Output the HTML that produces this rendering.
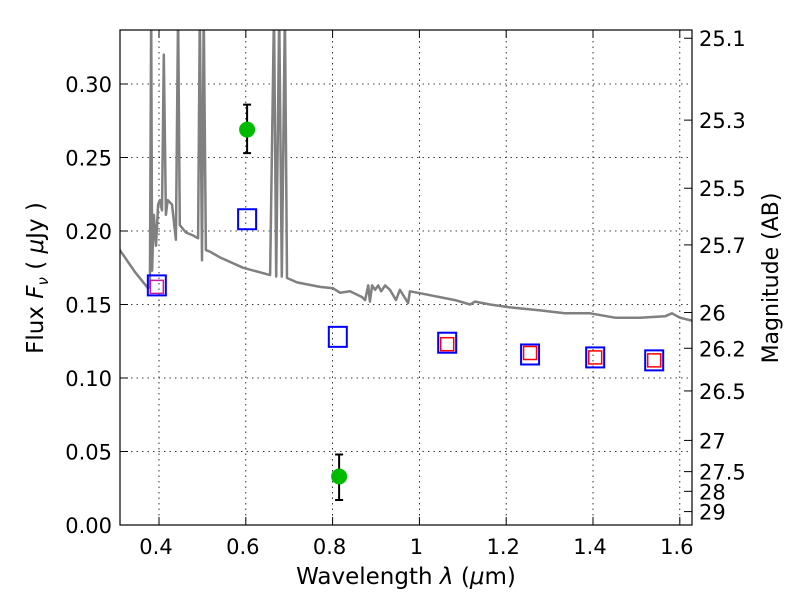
<!DOCTYPE html>
<html><head><meta charset="utf-8"><style>
body{margin:0;background:#fff}
svg text{font-family:"DejaVu Sans","Liberation Sans",sans-serif;fill:#000}
</style></head><body>
<svg id="chart" width="800" height="600" xmlns="http://www.w3.org/2000/svg">
<defs><clipPath id="clip"><rect x="120" y="30" width="572" height="495"/></clipPath></defs>
<g id="grid"></g>
<g id="spec" clip-path="url(#clip)"></g>
<g id="marks"></g>
<rect x="120" y="30" width="572" height="495" fill="none" stroke="#000" stroke-width="1.2"/>
<g id="axes"></g>
<text x="406" y="584" font-size="23" text-anchor="middle">Wavelength  <tspan font-style="italic">λ</tspan> (<tspan font-style="italic">μ</tspan>m)</text>
<text transform="translate(43,278) rotate(-90)" font-size="23" text-anchor="middle">Flux  <tspan font-style="italic">F</tspan><tspan font-style="italic" font-size="15" dy="5">ν</tspan><tspan dy="-5">  ( </tspan><tspan font-style="italic">μ</tspan>Jy )</text>
<text transform="translate(778,278) rotate(-90)" font-size="22" text-anchor="middle">Magnitude (AB)</text>
</svg>
<script>
const xTicks=[0.4,0.6,0.8,1.0,1.2,1.4,1.6];
const xTickLabels=["0.4","0.6","0.8","1","1.2","1.4","1.6"];
const yTicks=[0,0.05,0.10,0.15,0.20,0.25,0.30];
const yTickLabels=["0.00","0.05","0.10","0.15","0.20","0.25","0.30"];
const magTicks=[25.1,25.3,25.5,25.7,26,26.2,26.5,27,27.5,28,29];
const magLabels=["25.1","25.3","25.5","25.7","26","26.2","26.5","27","27.5","28","29"];
const blueWl=[0.395,0.603,0.812,1.064,1.255,1.405,1.541];
const blueFlux=[0.163,0.208,0.128,0.124,0.116,0.114,0.112];
const redWl=[0.395,1.064,1.255,1.405,1.541];
const redFlux=[0.162,0.123,0.117,0.114,0.112];
const greenWl=[0.603,0.815];
const greenFlux=[0.269,0.033];
const greenErrLo=[0.253,0.017];
const greenErrHi=[0.286,0.048];
const specWl=[0.310,0.345,0.375,0.379,0.382,0.384,0.388,0.393,0.398,0.402,0.407,0.411,0.416,0.420,0.430,0.439,0.444,0.448,0.462,0.478,0.490,0.494,0.499,0.503,0.508,0.517,0.541,0.594,0.656,0.665,0.670,0.677,0.683,0.690,0.695,0.718,0.771,0.801,0.817,0.840,0.868,0.875,0.882,0.886,0.891,0.898,0.905,0.912,0.921,0.932,0.946,0.955,0.974,0.978,1.013,1.047,1.082,1.117,1.128,1.163,1.209,1.278,1.335,1.393,1.451,1.508,1.566,1.582,1.600,1.628];
const specFlux=[0.187,0.172,0.161,0.163,0.35,0.173,0.211,0.190,0.218,0.221,0.214,0.320,0.211,0.221,0.218,0.194,0.35,0.204,0.199,0.197,0.195,0.35,0.180,0.35,0.187,0.186,0.182,0.175,0.170,0.35,0.169,0.35,0.169,0.35,0.168,0.165,0.162,0.161,0.158,0.159,0.155,0.153,0.163,0.152,0.163,0.160,0.163,0.159,0.163,0.160,0.153,0.160,0.151,0.159,0.157,0.155,0.153,0.150,0.152,0.150,0.148,0.146,0.144,0.144,0.141,0.141,0.142,0.144,0.141,0.139];

const NS="http://www.w3.org/2000/svg";
const X=w=>159+(w-0.4)*434;
const Y=f=>525-f*1470;
const magToFlux=m=>Math.pow(10,(23.9-m)/2.5);
function mk(tag,attrs,parent){const e=document.createElementNS(NS,tag);for(const k in attrs)e.setAttribute(k,attrs[k]);parent.appendChild(e);return e;}
const grid=document.getElementById('grid'),axes=document.getElementById('axes'),spec=document.getElementById('spec'),marks=document.getElementById('marks');

xTicks.forEach((t,i)=>{
  const x=X(t);
  const g=mk('line',{x1:x,x2:x,y1:30,y2:525,stroke:'#000','stroke-width':0.8,'stroke-dasharray':'1.5,4'},grid);
  
  
  mk('line',{x1:x,x2:x,y1:525,y2:517,stroke:'#000'},axes);
  mk('line',{x1:x,x2:x,y1:30,y2:38,stroke:'#000'},axes);
  const tx=mk('text',{x:x-3,y:554,'font-size':21,'text-anchor':'middle'},axes);
  tx.textContent=xTickLabels[i];
  
  
});
yTicks.forEach((t,i)=>{
  const y=Y(t);
  const g=mk('line',{x1:120,x2:692,y1:y,y2:y,stroke:'#000','stroke-width':0.8,'stroke-dasharray':'1.5,4'},grid);
  
  
  mk('line',{x1:120,x2:128,y1:y,y2:y,stroke:'#000'},axes);
  const tx=mk('text',{x:112,y:y+8,'font-size':21,'text-anchor':'end'},axes);
  tx.textContent=yTickLabels[i];
  
  
});
magTicks.forEach((m,i)=>{
  const y=Y(magToFlux(m));
  mk('line',{x1:684,x2:692,y1:y,y2:y,stroke:'#000'},axes);
  const tx=mk('text',{x:699,y:y+8,'font-size':21},axes);
  tx.textContent=magLabels[i];
  
  
});

const pts=specWl.map((w,i)=>X(w).toFixed(1)+','+Y(specFlux[i]).toFixed(1)).join(' ');
const pl=mk('polyline',{points:pts,fill:'none',stroke:'#808080','stroke-width':2.5,'stroke-linejoin':'round'},spec);



blueWl.forEach((w,i)=>{
  const b=mk('rect',{x:X(w)-9,y:Y(blueFlux[i])-10,width:18,height:20,fill:'none',stroke:'#0000ff','stroke-width':2},marks);
  
  
});
redWl.forEach((w,i)=>{
  const r=mk('rect',{x:X(w)-6.5,y:Y(redFlux[i])-6.5,width:13,height:13,fill:'none',stroke:i===0?'#c020a0':'#ff0000','stroke-width':1.5},marks);
  
  
});
greenWl.forEach((w,i)=>{
  const x=X(w);
  const e=mk('path',{d:`M${x},${Y(greenErrLo[i])}V${Y(greenErrHi[i])}M${x-4},${Y(greenErrLo[i])}h8M${x-4},${Y(greenErrHi[i])}h8`,stroke:'#000','stroke-width':2,fill:'none'},marks);
  
  
  const c=mk('circle',{cx:x,cy:Y(greenFlux[i]),r:8,fill:'#00bb00'},marks);
  
  
});
</script>
</body></html>
